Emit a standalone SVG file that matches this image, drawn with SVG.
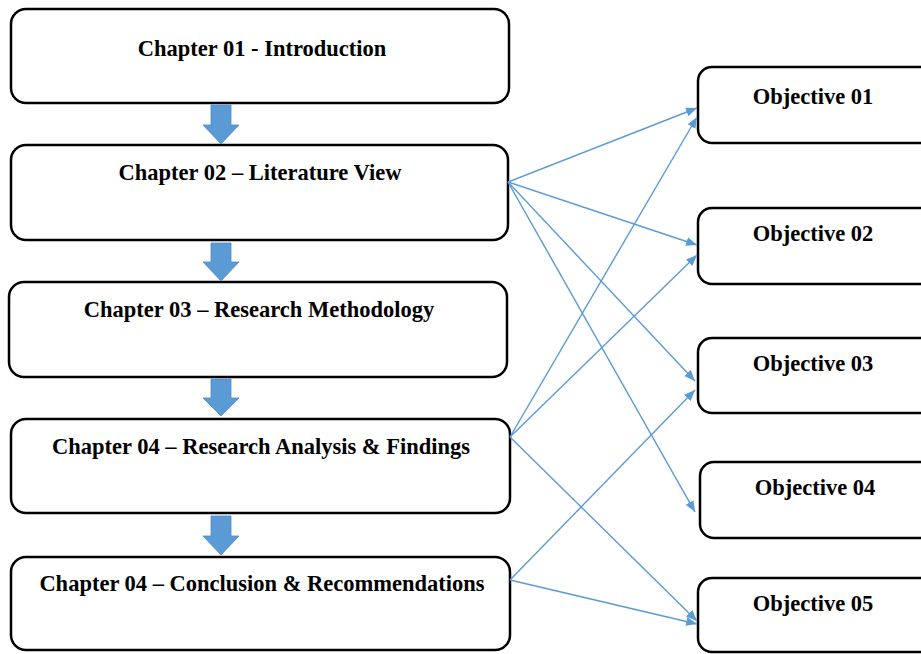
<svg xmlns="http://www.w3.org/2000/svg" width="921" height="654" viewBox="0 0 921 654">
  <style>
    .box { fill: #ffffff; stroke: #000000; stroke-width: 2.5; }
    .label { font-family: "Liberation Serif", "Times New Roman", serif; font-weight: bold; font-size: 22.5px; fill: #000000; text-anchor: middle; }
    .flow { fill: #5B9BD5; stroke: #4F8CC4; stroke-width: 0.8; }
    .link { fill: none; stroke: #5B9BD5; stroke-width: 1.4; marker-end: url(#head); }
  </style>
  <defs>
    <marker id="head" markerUnits="userSpaceOnUse" markerWidth="12" markerHeight="10" refX="11" refY="4.5" orient="auto">
      <path d="M0,0 L11,4.5 L0,9 Z" fill="#5B9BD5"/>
    </marker>
  </defs>
  <rect width="921" height="654" fill="#ffffff"/>

  <!-- chapter boxes -->
  <g id="chapter01">
    <rect class="box" x="11" y="9" width="498" height="94" rx="15"/>
    <text class="label" x="262" y="56">Chapter 01 - Introduction</text>
  </g>
  <g id="chapter02">
    <rect class="box" x="11" y="145" width="497" height="95" rx="15"/>
    <text class="label" x="260" y="180">Chapter 02 – Literature View</text>
  </g>
  <g id="chapter03">
    <rect class="box" x="9" y="282" width="498" height="95" rx="15"/>
    <text class="label" x="259" y="317">Chapter 03 – Research Methodology</text>
  </g>
  <g id="chapter04">
    <rect class="box" x="11" y="419" width="499" height="94" rx="15"/>
    <text class="label" x="261" y="454">Chapter 04 – Research Analysis &amp; Findings</text>
  </g>
  <g id="chapter05">
    <rect class="box" x="11" y="557" width="499" height="93" rx="15"/>
    <text class="label" x="262" y="591">Chapter 04 – Conclusion &amp; Recommendations</text>
  </g>

  <!-- objective boxes -->
  <g id="objective01">
    <rect class="box" x="698" y="67" width="250" height="76" rx="14"/>
    <text class="label" x="813" y="104">Objective 01</text>
  </g>
  <g id="objective02">
    <rect class="box" x="698" y="208" width="250" height="76" rx="14"/>
    <text class="label" x="813" y="241">Objective 02</text>
  </g>
  <g id="objective03">
    <rect class="box" x="698" y="338" width="250" height="75" rx="14"/>
    <text class="label" x="813" y="371">Objective 03</text>
  </g>
  <g id="objective04">
    <rect class="box" x="700" y="462" width="250" height="76" rx="14"/>
    <text class="label" x="815" y="495">Objective 04</text>
  </g>
  <g id="objective05">
    <rect class="box" x="698" y="578" width="250" height="74" rx="14"/>
    <text class="label" x="813" y="611">Objective 05</text>
  </g>

  <!-- connectors -->
  <g id="connectors">
    <polygon class="flow" points="211,105 231,105 231,125 239,125 221,144 203,125 211,125"/>
    <polygon class="flow" points="211,243 231,243 231,262 239,262 221,281 203,262 211,262"/>
    <polygon class="flow" points="211,379 231,379 231,398 239,398 221,416 203,398 211,398"/>
    <polygon class="flow" points="211,516 231,516 231,536 239,536 221,555 203,536 211,536"/>

    <line class="link" x1="508" y1="182" x2="697" y2="108"/>
    <line class="link" x1="508" y1="182" x2="697" y2="245"/>
    <line class="link" x1="508" y1="182" x2="695" y2="381"/>
    <line class="link" x1="508" y1="182" x2="695" y2="512"/>
    <line class="link" x1="510" y1="437" x2="697" y2="117"/>
    <line class="link" x1="510" y1="437" x2="697" y2="255"/>
    <line class="link" x1="510" y1="437" x2="697" y2="621"/>
    <line class="link" x1="510" y1="580" x2="695" y2="390"/>
    <line class="link" x1="510" y1="580" x2="697" y2="624"/>
  </g>
</svg>
